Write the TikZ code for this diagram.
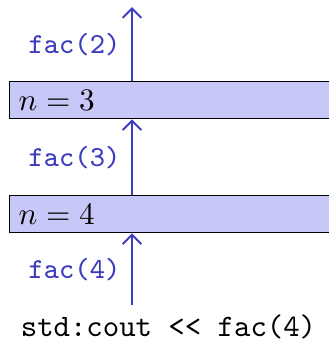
\documentclass[tikz,border=0pt]{standalone}
\usetikzlibrary{arrows.meta}
\definecolor{flow}{RGB}{60,60,190}
\definecolor{boxfill}{RGB}{200,200,248}
\tikzset{
  box/.style={draw=black, line width=0.4pt, fill=boxfill, anchor=north west,
    minimum height=11.84pt, text width=100pt, inner xsep=2.9pt, inner ysep=0pt, align=left},
  arr/.style={draw=flow, line width=0.65pt, -{Straight Barb[length=3pt,width=6pt]}},
  lab/.style={text=flow, font=\fontsize{9.3}{11}\selectfont\ttfamily, inner sep=0pt},
  code/.style={font=\ttfamily, inner sep=0pt}
}
\begin{document}
\begin{tikzpicture}[x=0.32pt,y=-0.32pt]
\useasboundingbox (0,0) rectangle (329,340);
\node[box] (b1) at (9,81) {$n=3$};
\node[box] (b2) at (9,195) {$n=4$};
\coordinate (a1) at (132,7);
\coordinate (a3) at (132,305);
\draw[arr] (b1.north -| a1) -- (a1);
\draw[arr] (b2.north -| a1) -- (b1.south -| a1);
\draw[arr] (a3) -- (b2.south -| a3);
\node[lab] (l2) at (74.5,45) {fac(2)};
\node[lab] (l3) at (74.5,158) {fac(3)};
\node[lab] (l4) at (74.5,270) {fac(4)};
\node[code] (c) at (168.5,327) {std:cout <{}< fac(4)};
\end{tikzpicture}
\end{document}
